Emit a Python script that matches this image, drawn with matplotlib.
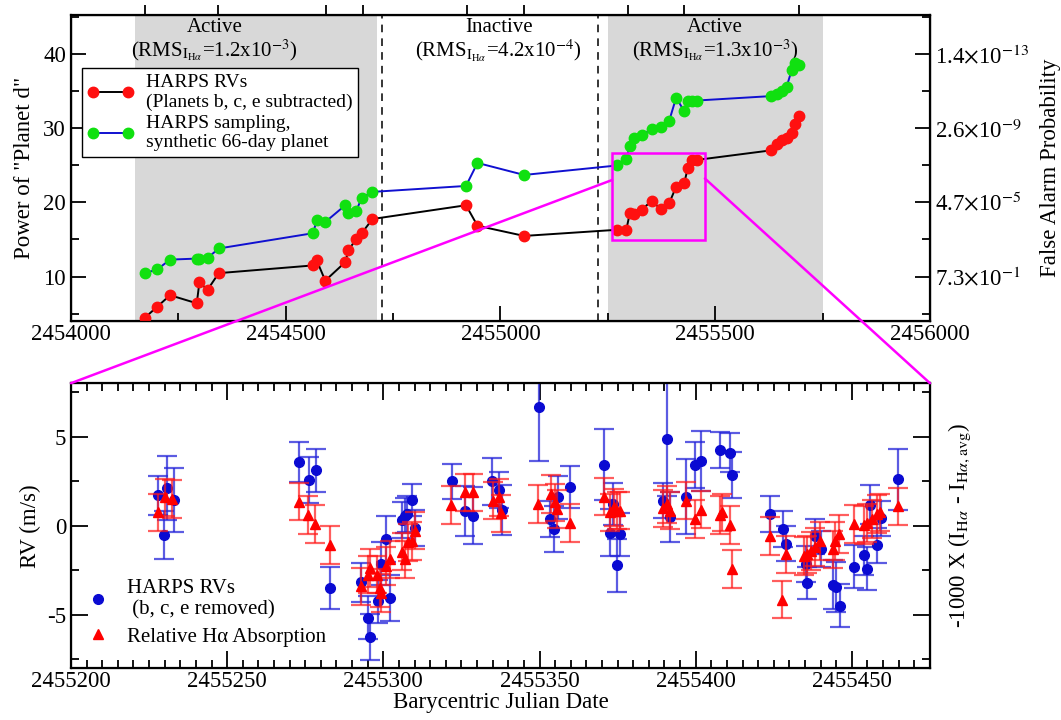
import numpy as np
import matplotlib
matplotlib.use("Agg")
import matplotlib.pyplot as plt
from matplotlib.lines import Line2D
from matplotlib.patches import Rectangle, ConnectionPatch

plt.rcParams['font.family'] = ['Liberation Serif', 'DejaVu Serif']
plt.rcParams['mathtext.fontset'] = 'stix'
plt.rcParams['axes.unicode_minus'] = False

# ---- top panel: cumulative periodogram power
top_jd = [2454171.7, 2454200.8, 2454230.7, 2454292.9, 2454299, 2454318, 2454344,
          2454563.8, 2454572, 2454592, 2454639, 2454645.7, 2454663.8, 2454677, 2454702,
          2454919.7, 2454946.5, 2455055,
          2455272, 2455293, 2455301, 2455310, 2455329, 2455352, 2455373, 2455393,
          2455409, 2455428, 2455436, 2455445, 2455457,
          2455631, 2455643, 2455655, 2455666, 2455678, 2455686, 2455696]
power_rv = [4.44, 5.94, 7.49, 6.4, 9.22, 8.22, 10.46,
            11.5, 12.2, 9.45, 11.96, 13.56, 15.0, 15.84, 17.75,
            19.6, 16.84, 15.47,
            16.3, 16.3, 18.5, 18.4, 19.0, 20.2, 19.1, 19.9,
            22.1, 22.6, 24.6, 25.7, 25.7,
            27.0, 27.9, 28.4, 28.7, 29.3, 30.5, 31.6]
power_syn = [10.46, 10.96, 12.28, 12.42, 12.42, 12.5, 13.78,
             15.84, 17.57, 17.34, 19.62, 18.57, 18.8, 20.6, 21.4,
             22.2, 25.3, 23.68,
             24.96, 25.87, 27.6, 28.6, 29.06, 29.84, 30.2, 31.0,
             34.08, 32.25, 33.7, 33.7, 33.7,
             34.3, 34.6, 35.0, 35.5, 37.8, 38.8, 38.5]
fap_ticks = [10, 20, 30, 40]
fap_labels = [r'7.3$\times$10$^{-1}$', r'4.7$\times$10$^{-5}$',
              r'2.6$\times$10$^{-9}$', r'1.4$\times$10$^{-13}$']
top_marks = [2454173, 2454343, 2454594, 2454681, 2454921, 2455055, 2455297, 2455427, 2455696]
active_spans = [(2454150, 2454712), (2455250, 2455750)]
dashed_jd = [2454724, 2455227]
season_x = [2454334, 2454996, 2455500]
season_title = ['Active', 'Inactive', 'Active']
season_rms = [r'(RMS$_{\mathrm{I}_{\mathrm{H}\alpha}}$=1.2x10$^{-3}$)',
              r'(RMS$_{\mathrm{I}_{\mathrm{H}\alpha}}$=4.2x10$^{-4}$)',
              r'(RMS$_{\mathrm{I}_{\mathrm{H}\alpha}}$=1.3x10$^{-3}$)']
zoom_box = (2455260, 2455476, 14.92, 26.69)

# ---- bottom panel: RVs and H-alpha
rv_jd = [2455227.7, 2455229.9, 2455230.9, 2455233.1, 2455273.1, 2455276.1, 2455278.3, 2455283.0,
         2455292.9, 2455295.1, 2455295.8, 2455298.3, 2455299.4, 2455301.0, 2455302.0,
         2455305.9, 2455306.8, 2455307.7, 2455309.1, 2455310.2,
         2455322.0, 2455326.1, 2455328.6, 2455334.9, 2455337.1, 2455338.0,
         2455349.7, 2455353.4, 2455354.7, 2455355.8, 2455359.7,
         2455370.8, 2455372.7, 2455373.6, 2455374.8, 2455375.8,
         2455389.6, 2455390.8, 2455391.9, 2455396.8, 2455399.7, 2455401.8,
         2455407.7, 2455410.9, 2455411.7,
         2455423.7, 2455428.0, 2455428.8, 2455435.2, 2455435.7, 2455438.1, 2455440.0,
         2455443.8, 2455444.8, 2455446.1, 2455450.6, 2455453.8, 2455454.9, 2455455.8,
         2455457.9, 2455459.2, 2455464.8]
rv_val = [1.70, -0.51, 2.11, 1.45, 3.58, 2.58, 3.11, -3.49,
          -3.17, -5.15, -6.23, -4.25, -2.13, -0.76, -4.06,
          0.34, 0.57, 0.66, 1.47, -0.14,
          2.49, 0.85, 0.57, 2.49, 2.0, 0.88,
          6.66, 0.37, -0.19, 1.6, 2.17,
          3.43, -0.38, 1.22, -2.23, -0.47,
          1.41, 4.85, 0.47, 1.64, 3.4, 3.64,
          4.24, 4.11, 2.86,
          0.66, -0.19, -1.0, -2.13, -3.21, -0.6, -1.32,
          -3.3, -3.43, -4.49, -2.3, -1.66, -2.42, 1.17,
          -1.1, 0.41, 2.6]
rv_err = [1.1, 1.35, 1.8, 1.8, 1.1, 1.3, 1.2, 1.2,
          1.1, 1.2, 1.3, 1.2, 1.2, 1.3, 1.3,
          1.0, 1.0, 1.0, 0.9, 1.0,
          1.0, 1.4, 1.6, 1.3, 1.0, 1.4,
          3.0, 1.0, 1.3, 1.2, 1.2,
          2.0, 1.3, 1.2, 1.5, 1.2,
          1.0, 3.2, 1.4, 2.1, 1.3, 1.7,
          1.0, 1.1, 1.3,
          1.0, 1.0, 1.0, 1.0, 0.9, 1.0, 1.0,
          1.4, 1.4, 1.2, 1.2, 1.1, 1.2, 1.1,
          1.0, 1.0, 1.7]
ha_jd = [2455227.7, 2455230.2, 2455232.2, 2455272.9, 2455275.8, 2455278.0, 2455283.0,
         2455292.9, 2455295.1, 2455295.8, 2455298.0, 2455298.8, 2455299.4, 2455301.0, 2455302.0,
         2455305.9, 2455306.8, 2455308.0, 2455309.1, 2455310.2,
         2455321.8, 2455326.1, 2455328.6, 2455335.1, 2455336.9, 2455337.7,
         2455349.5, 2455353.6, 2455355.0, 2455355.6, 2455359.7,
         2455370.8, 2455372.7, 2455373.8, 2455374.8, 2455375.8,
         2455389.6, 2455390.8, 2455391.9, 2455396.8, 2455399.7, 2455401.8,
         2455407.7, 2455408.3, 2455410.9, 2455411.7,
         2455423.7, 2455427.7, 2455428.8, 2455434.6, 2455435.7, 2455437.0, 2455438.1,
         2455439.7, 2455443.8, 2455444.5, 2455445.9,
         2455450.6, 2455453.8, 2455454.9, 2455456.5, 2455458.1, 2455459.0, 2455464.8]
ha_val = [0.75, 1.6, 1.5, 1.36, 0.6, 0.09, -1.07,
          -3.4, -2.74, -2.36, -2.74, -3.49, -3.77, -2.26, -1.89,
          -1.45, -1.89, -0.94, -0.85, -0.28,
          1.17, 1.88, 1.88, 1.41, 1.6, 0.7,
          1.22, 1.79, 1.32, 0.94, 0.15,
          1.64, 0.75, 1.04, 0.85, 0.85,
          0.98, 1.2, 0.85, 1.41, 0.37, 0.9,
          0.6, 0.75, 0.04, -2.42,
          -0.57, -4.15, -1.6, -1.7, -1.6, -1.41, -1.2,
          -0.85, -1.32, -0.85, -0.47,
          0.09, 0.04, 0.15, 0.37, 0.66, 0.75, 1.09]
ha_err = [1.05] * len(ha_val)

fig = plt.figure(figsize=(10.61, 7.2), dpi=100)
ax = fig.add_axes([0.0669, 0.554, 0.8096, 0.425])
axb = fig.add_axes([0.0669, 0.0718, 0.8096, 0.396])

FS = 16.5

# ---------------- top panel ----------------
for a, b in active_spans:
    ax.axvspan(a, b, color='#d8d8d8', lw=0, zorder=0)
for d in dashed_jd:
    ax.axvline(d, color='k', ls=(0, (5, 4)), lw=1.1, zorder=1)
ax.plot(top_jd, power_syn, '-', color='#1010d0', lw=1.4, zorder=3)
ax.plot(top_jd, power_syn, 'o', color='#10e010', ms=7.5, zorder=4)
ax.plot(top_jd, power_rv, '-', color='k', lw=1.4, zorder=3)
ax.plot(top_jd, power_rv, 'o', color='#ff1010', ms=7.5, zorder=4)

x0, x1, y0, y1 = zoom_box
ax.add_patch(Rectangle((x0, y0), x1 - x0, y1 - y0, fill=False, ec='#ff00ff', lw=1.8, zorder=5))

for xs, t1, t2 in zip(season_x, season_title, season_rms):
    ax.text(xs, 0.958, t1, transform=ax.get_xaxis_transform(), ha='center', va='center', fontsize=15)
    ax.text(xs, 0.885, t2, transform=ax.get_xaxis_transform(), ha='center', va='center', fontsize=15)

ax.set_xlim(2454000, 2456000)
ax.set_ylim(4, 45.2)
ax.set_xticks([2454000, 2454500, 2455000, 2455500, 2456000])
ax.set_xticklabels(['2454000', '2454500', '2455000', '2455500', '2456000'])
ax.set_xticks(np.arange(2454250, 2456000, 500), minor=True)
ax.set_yticks([10, 20, 30, 40])
ax.set_yticks([5, 15, 25, 35, 45], minor=True)
ax.tick_params(which='both', direction='in', top=False, right=False, labelsize=FS, width=1.3)
ax.tick_params(which='major', length=11)
ax.tick_params(which='minor', length=6)
ax.tick_params(axis='x', pad=2)
ax.set_ylabel('Power of "Planet d"', fontsize=FS, labelpad=6)
for s in ax.spines.values():
    s.set_linewidth(1.6)

axr = ax.twinx()
axr.set_ylim(ax.get_ylim())
axr.set_yticks(fap_ticks)
axr.set_yticklabels(fap_labels)
axr.set_yticks([5, 15, 25, 35, 45], minor=True)
axr.tick_params(which='both', direction='in', labelsize=FS, width=1.3)
axr.tick_params(which='major', length=11)
axr.tick_params(which='minor', length=6)
axr.set_ylabel('False Alarm Probability', fontsize=FS, labelpad=8)

axt = ax.twiny()
axt.set_xlim(ax.get_xlim())
axt.set_xticks(top_marks)
axt.tick_params(axis='x', direction='out', length=7, width=1.3, labeltop=False)

handles = [Line2D([], [], color='k', lw=1.4, marker='o', mfc='#ff1010', mec='#ff1010', ms=7.5),
           Line2D([], [], color='#1010d0', lw=1.4, marker='o', mfc='#10e010', mec='#10e010', ms=7.5)]
leg = ax.legend(handles, ['HARPS RVs\n(Planets b, c, e subtracted)',
                          'HARPS sampling,\nsynthetic 66-day planet'],
                loc='upper left', bbox_to_anchor=(0.008, 0.84), fontsize=14,
                fancybox=False, edgecolor='k', framealpha=1, handlelength=2.4, numpoints=2,
                borderpad=0.3, labelspacing=0.2, handletextpad=0.6, borderaxespad=0.2)
leg.get_frame().set_linewidth(1.0)

# ---------------- bottom panel ----------------
axb.errorbar(rv_jd, rv_val, yerr=rv_err, fmt='o', color='#0a0ad2', ms=7,
             ecolor=(0.15, 0.15, 0.85, 0.75), elinewidth=1.6, capsize=7, capthick=1.6, zorder=3)
axb.errorbar(ha_jd, ha_val, yerr=ha_err, fmt='^', color='#ff0000', ms=7,
             ecolor=(1.0, 0.1, 0.1, 0.7), elinewidth=1.6, capsize=7, capthick=1.6, zorder=4)

axb.set_xlim(2455200, 2455475)
axb.set_ylim(-8, 8)
axb.set_xticks(np.arange(2455200, 2455451, 50))
axb.set_xticklabels([str(v) for v in range(2455200, 2455451, 50)])
axb.set_xticks(np.arange(2455200, 2455476, 5), minor=True)
axb.set_yticks([-5, 0, 5])
axb.set_yticks([-7.5, -2.5, 2.5, 7.5], minor=True)
axb.tick_params(which='both', direction='in', top=True, right=False, labelsize=FS, width=1.3)
axb.tick_params(which='major', length=12)
axb.tick_params(which='minor', length=6)
axb.tick_params(axis='x', pad=2)
axb.set_xlabel('Barycentric Julian Date', fontsize=FS, labelpad=0)
axb.set_ylabel('RV (m/s)', fontsize=FS)
for s in axb.spines.values():
    s.set_linewidth(1.6)

axbr = axb.twinx()
axbr.set_ylim(axb.get_ylim())
axbr.set_yticks([-5, 0, 5])
axbr.set_yticks([-7.5, -2.5, 2.5, 7.5], minor=True)
axbr.tick_params(which='both', direction='in', labelright=False, width=1.3)
axbr.tick_params(which='major', length=12)
axbr.tick_params(which='minor', length=6)
axbr.set_ylabel(r'-1000 X (I$_{\mathrm{H}\alpha}$ - I$_{\mathrm{H}\alpha\mathrm{,avg}}$)',
                fontsize=FS, labelpad=12)

hb = [Line2D([], [], ls='none', marker='o', color='#0a0ad2', ms=7),
      Line2D([], [], ls='none', marker='^', color='#ff0000', ms=7)]
axb.legend(hb, ['HARPS RVs\n (b, c, e removed)', 'Relative H\u03b1 Absorption'],
           loc='lower left', bbox_to_anchor=(-0.005, 0.01), frameon=False, fontsize=15,
           handlelength=1.2, handletextpad=0.8, labelspacing=0.35)

# magenta connectors from zoom box to the bottom panel corners
con1 = ConnectionPatch(xyA=(x0, 23.0), coordsA=ax.transData,
                       xyB=(0, 1), coordsB=axb.transAxes, color='#ff00ff', lw=1.8)
con2 = ConnectionPatch(xyA=(x1, 23.2), coordsA=ax.transData,
                       xyB=(1, 1), coordsB=axb.transAxes, color='#ff00ff', lw=1.8)
fig.add_artist(con1)
fig.add_artist(con2)

fig.savefig('out.png', dpi=100)
